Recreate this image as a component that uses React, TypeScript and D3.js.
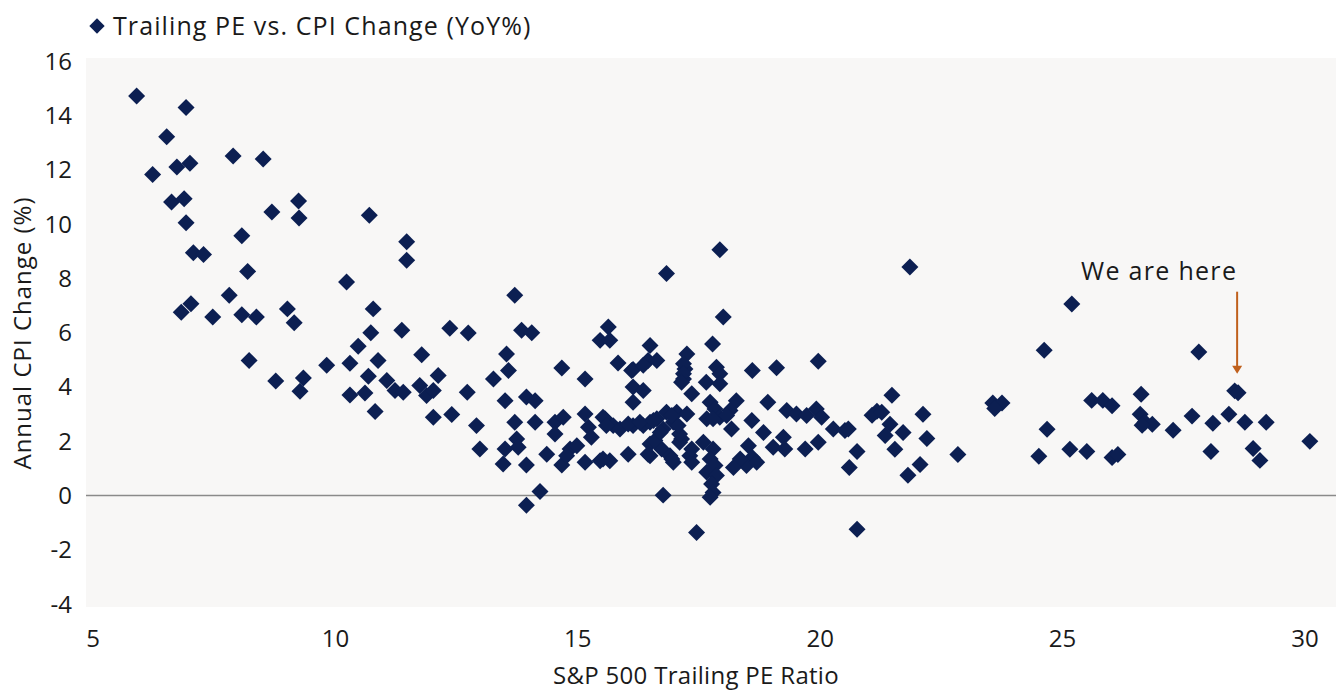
import React from "react";
import * as d3 from "d3";

// S&P 500 trailing PE (x) vs annual CPI change % (y)
const lowPE: [number, number][] = [
  [5.90,14.71],[6.92,14.29],[6.52,13.21],[6.23,11.82],[6.73,12.10],[7.00,12.23],[7.89,12.50],[8.51,12.39],
  [6.62,10.81],[6.88,10.93],[6.92,10.04],[8.69,10.44],[9.24,10.84],[9.25,10.22],[10.70,10.32],[8.07,9.56],
  [7.07,8.94],[7.28,8.87],[8.19,8.25],[10.23,7.86],[7.81,7.37],[6.82,6.75],[7.02,7.06],[7.47,6.57],
  [8.07,6.65],[8.37,6.57],[9.01,6.87],[9.15,6.36],[10.78,6.87],[10.73,5.99],[10.47,5.49],[10.88,4.97],
  [10.30,4.87],[9.82,4.79],[8.22,4.97],[8.77,4.21],[9.34,4.32],[9.27,3.84],[10.68,4.39],[10.30,3.70],
  [10.61,3.77],[10.82,3.09],[11.47,9.34],[11.47,8.66],
];

const midPE: [number, number][] = [
  [13.70,7.37],[11.37,6.08],[12.36,6.16],[12.74,5.98],[13.84,6.08],[14.05,5.99],[15.63,6.20],[15.46,5.71],
  [15.66,5.71],[11.78,5.18],[13.53,5.21],[13.57,4.60],[13.26,4.29],[14.67,4.69],[15.15,4.29],[15.83,4.88],
  [16.49,5.52],[16.45,4.97],[16.63,4.97],[16.14,4.64],[17.25,5.21],[17.21,4.66],[17.18,4.29],[17.35,3.74],
  [16.14,3.99],[16.35,3.86],[16.14,3.43],[12.12,4.42],[11.74,4.05],[11.88,3.68],[12.02,3.86],[11.06,4.23],
  [11.23,3.86],[11.40,3.80],[12.02,2.88],[12.40,2.98],[12.72,3.80],[12.91,2.57],[12.98,1.71],[13.50,3.49],
  [13.94,3.62],[14.12,3.49],[13.70,2.69],[14.12,2.69],[13.74,2.08],[13.77,1.77],[13.50,1.71],[13.46,1.16],
  [13.94,1.12],[14.36,1.52],[14.53,2.69],[14.70,2.88],[14.53,2.26],[14.67,1.12],[14.84,1.71],[14.98,1.83],
  [14.77,1.46],[15.15,3.00],[15.22,2.51],[15.28,2.14],[15.15,1.22],[15.46,1.28],[15.66,1.28],[15.56,2.82],
  [15.73,2.57],[15.87,2.45],[16.04,1.52],[16.14,2.57],[16.35,2.57],[16.49,2.69],[16.63,2.82],[16.83,3.06],
  [17.04,3.06],[17.25,3.00],[16.97,2.69],[16.76,2.45],[16.49,1.89],[16.49,1.46],[16.73,1.71],[16.90,1.46],
  [16.97,1.22],[17.14,2.08],[17.31,1.46],[17.35,1.22],[14.22,0.14],[13.94,-0.36],[16.76,0.01],[17.45,-1.37],
  [18.00,6.57],[17.78,5.58],[16.11,4.60],[16.35,4.79],[17.18,4.85],[17.18,4.48],[17.14,4.17],[17.86,4.72],
  [17.93,4.48],[17.65,4.17],[17.93,4.11],[18.60,4.60],[19.10,4.70],[19.96,4.94],[18.92,3.43],[18.27,3.49],
  [18.14,3.13],[17.73,3.43],[17.83,3.18],[17.93,2.88],[17.66,2.82],[17.79,2.82],[18.07,2.94],[18.17,2.45],
  [18.59,2.76],[18.83,2.32],[19.31,3.13],[19.51,3.00],[19.72,2.94],[19.92,3.18],[20.03,2.88],[20.27,2.45],
  [20.51,2.39],[20.58,2.45],[19.96,1.96],[19.69,1.71],[19.24,2.14],[19.27,1.71],[19.03,1.77],[18.52,1.83],
  [18.60,1.40],[18.48,1.10],[18.35,1.34],[18.21,1.03],[18.69,1.22],[17.79,1.71],[17.73,1.34],[17.83,1.10],
  [17.66,0.85],[17.86,0.73],[17.76,0.42],[17.79,0.11],[17.73,-0.07],[17.59,1.96],[17.35,1.71],[16.94,1.34],
  [16.59,2.02],[16.70,2.32],[17.10,1.96],[17.10,2.26],[17.07,2.57],[16.94,2.94],[16.45,1.52],[15.52,1.34],
  [15.52,2.88],[15.59,2.57],[16.04,2.63],[16.28,2.69],[16.56,2.76],[16.83,8.17],[17.93,9.05],
];

const highPE: [number, number][] = [
  [21.85,8.41],[25.19,7.05],[24.62,5.35],[27.81,5.28],[28.55,3.85],[28.62,3.78],[21.48,3.69],[26.62,3.73],
  [23.56,3.40],[23.75,3.40],[23.60,3.20],[25.60,3.50],[25.83,3.50],[26.02,3.30],[22.12,2.99],[21.17,3.10],
  [21.07,2.95],[21.27,3.06],[21.44,2.62],[21.34,2.21],[21.71,2.32],[21.54,1.70],[22.20,2.10],[20.76,1.62],
  [20.60,1.03],[22.06,1.14],[21.81,0.74],[22.84,1.51],[20.76,-1.25],[24.68,2.44],[24.51,1.44],[25.15,1.70],
  [25.50,1.62],[26.02,1.40],[26.14,1.51],[26.60,2.99],[26.70,2.69],[26.85,2.62],[26.64,2.58],[27.28,2.40],
  [27.67,2.92],[28.10,2.66],[28.43,2.99],[28.76,2.69],[29.20,2.69],[28.06,1.62],[28.93,1.73],[29.07,1.29],
  [30.10,1.99],
];

const xTicks = [5, 10, 15, 20, 25, 30];
const yTicks = [-4, -2, 0, 2, 4, 6, 8, 10, 12, 14, 16];
const current: [number, number] = [28.6, 3.82];

const seriesName = "Trailing PE vs. CPI Change (YoY%)";
const xTitle = "S&P 500 Trailing PE Ratio";
const yTitle = "Annual CPI Change (%)";
const note = "We are here";

const W = 1336;
const H = 692;
const NAVY = "#0c1f52";
const ORANGE = "#c0601c";
const INK = "#1a1a1a";
const FONT = "'Open Sans', 'Noto Sans', sans-serif";

export default function App() {
  const x = d3.scaleLinear().domain([5, 30]).range([93, 1305]);
  const y = d3.scaleLinear().domain([-4, 16]).range([604, 61]);
  const symType = (d3 as any).symbolDiamond2 || d3.symbolSquare;
  const rot = (d3 as any).symbolDiamond2 ? 0 : 45;
  const diamond = d3.symbol().type(symType).size(184)() as string;
  const legendDiamond = d3.symbol().type(symType).size(150)() as string;
  const all = [...lowPE, ...midPE, ...highPE];
  const ax = x(current[0]);
  const ayTop = y(current[1]) - 100;
  const ayBot = y(current[1]) - 18;

  return (
    <svg width={W} height={H} style={{ position: "absolute", left: 0, top: 0, background: "#fff" }} fontFamily={FONT}>
      <rect x={86} y={58} width={W - 86} height={549} fill="#f8f7f6" />
      {/* legend */}
      <path d={legendDiamond} transform={`translate(97,26) rotate(${rot})`} fill={NAVY} />
      <text x={113} y={35} fontSize={25} letterSpacing={1.1} fill={INK}>{seriesName}</text>
      {/* y ticks */}
      {yTicks.map((t) => (
        <text key={t} x={72} y={y(t)} dy="0.36em" textAnchor="end" fontSize={24} fill={INK}>{t}</text>
      ))}
      {/* x ticks */}
      {xTicks.map((t) => (
        <text key={t} x={x(t)} y={647} textAnchor="middle" fontSize={24} fill={INK}>{t}</text>
      ))}
      {/* zero line */}
      <line x1={86} x2={W} y1={y(0)} y2={y(0)} stroke="#8a8a8a" strokeWidth={1.5} />
      {/* points */}
      {all.map((p, i) => (
        <path key={i} d={diamond} transform={`translate(${x(p[0])},${y(p[1])}) rotate(${rot})`} fill={NAVY} />
      ))}
      {/* annotation */}
      <text x={ax - 78} y={ayTop - 12} textAnchor="middle" fontSize={25} letterSpacing={1.3} fill={INK}>{note}</text>
      <line x1={ax} x2={ax} y1={ayTop} y2={ayBot - 6} stroke={ORANGE} strokeWidth={2} />
      <path d={`M${ax - 5},${ayBot - 8}L${ax + 5},${ayBot - 8}L${ax},${ayBot}Z`} fill={ORANGE} />
      {/* axis titles */}
      <text x={696} y={684} textAnchor="middle" fontSize={24} letterSpacing={0.3} fill={INK}>{xTitle}</text>
      <text transform={`translate(31,333) rotate(-90)`} textAnchor="middle" fontSize={24} letterSpacing={1} fill={INK}>{yTitle}</text>
    </svg>
  );
}
